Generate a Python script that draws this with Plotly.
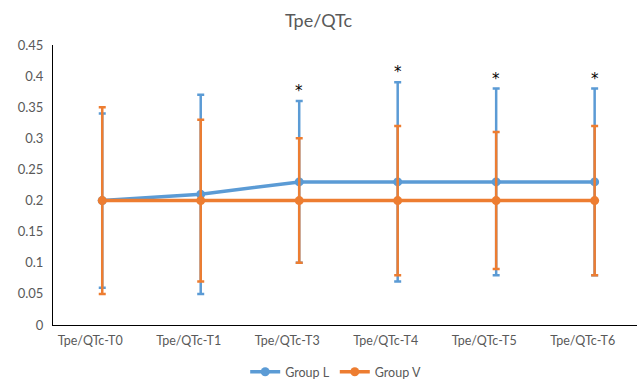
import plotly.graph_objects as go

categories = ["Tpe/QTc-T0", "Tpe/QTc-T1", "Tpe/QTc-T3", "Tpe/QTc-T4", "Tpe/QTc-T5", "Tpe/QTc-T6"]
group_l = [0.20, 0.21, 0.23, 0.23, 0.23, 0.23]
group_l_err = [0.14, 0.16, 0.13, 0.16, 0.15, 0.15]
group_v = [0.20, 0.20, 0.20, 0.20, 0.20, 0.20]
group_v_err = [0.15, 0.13, 0.10, 0.12, 0.11, 0.12]
signif = [False, False, True, True, True, True]

BLUE = "#5B9BD5"
ORANGE = "#ED7D31"
GRAY = "#595959"
FONT = "Lato, Open Sans, sans-serif"

fig = go.Figure()
fig.add_trace(go.Scatter(
    x=categories, y=group_l, name="Group L", mode="lines+markers",
    line=dict(color=BLUE, width=3.5), marker=dict(color=BLUE, size=9),
    error_y=dict(type="data", array=group_l_err, visible=True, color=BLUE, thickness=2.5, width=3.5),
))
fig.add_trace(go.Scatter(
    x=categories, y=group_v, name="Group V", mode="lines+markers",
    line=dict(color=ORANGE, width=3.5), marker=dict(color=ORANGE, size=9),
    error_y=dict(type="data", array=group_v_err, visible=True, color=ORANGE, thickness=2.5, width=3.5),
))

for c, m, e, s in zip(categories, group_l, group_l_err, signif):
    if s:
        fig.add_annotation(x=c, y=m + e, text="*", showarrow=False, yshift=10,
                           font=dict(size=15, color="black", family="DejaVu Sans"))

fig.update_layout(
    width=637, height=379,
    margin=dict(l=53, r=0, t=45, b=54, autoexpand=False),
    paper_bgcolor="white", plot_bgcolor="white",
    font=dict(family=FONT, color=GRAY, size=12),
    title=dict(text="Tpe/QTc", x=0.5, xref="container", xanchor="center",
               y=0.945, yref="container", yanchor="middle",
               font=dict(size=18, color=GRAY, family=FONT)),
    showlegend=True,
    legend=dict(orientation="h", x=0.527, xref="container", xanchor="center",
                y=0.018, yref="container", yanchor="middle",
                font=dict(size=12.5, color=GRAY, family=FONT), itemwidth=30),
)
fig.update_xaxes(type="category", range=[-0.5, 5.43], showgrid=False, showline=True,
                 linecolor="black", linewidth=1, ticks="", automargin=False,
                 tickfont=dict(size=12.5, color=GRAY), ticklabelshift=-12,
                 ticklabelstandoff=4)
fig.update_yaxes(range=[0, 0.45], dtick=0.05, showgrid=False, showline=True,
                 linecolor="black", linewidth=1, ticks="", zeroline=False, automargin=False,
                 tickfont=dict(size=13, color=GRAY), ticklabelstandoff=6)

fig.write_html("out.html", config={"displayModeBar": False},
               post_script="document.body.style.margin='0';")
